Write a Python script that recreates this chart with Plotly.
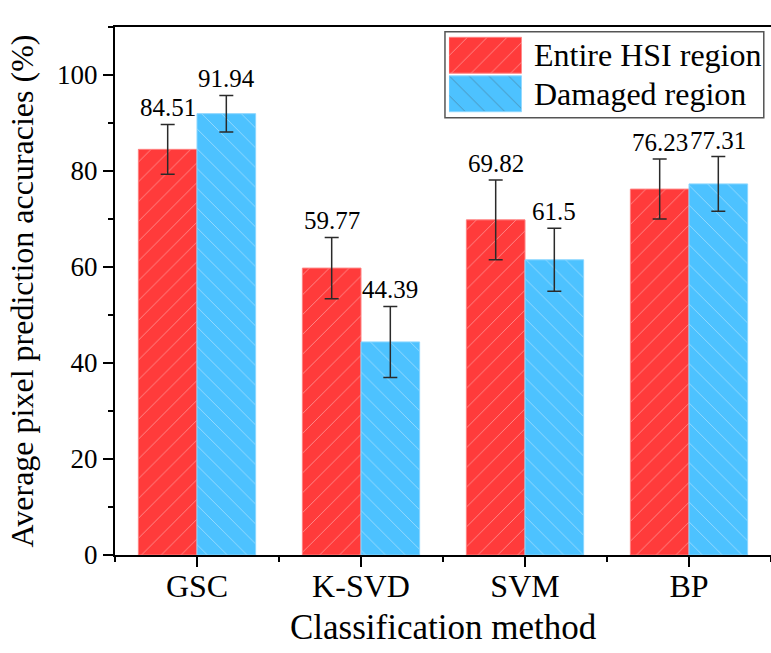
import plotly.graph_objects as go

# ---- data ----
categories = ["GSC", "K-SVD", "SVM", "BP"]
entire_vals = [84.51, 59.77, 69.82, 76.23]
entire_err = [5.2, 6.4, 8.3, 6.25]
damaged_vals = [91.94, 44.39, 61.5, 77.31]
damaged_err = [3.8, 7.4, 6.55, 5.7]
series_names = ["Entire HSI region", "Damaged region"]
y_tick_vals = [0, 20, 40, 60, 80, 100]
x_title = "Classification method"
y_title = "Average pixel prediction accuracies (%)"

# ---- styles ----
RED = "#FF3B3B"
BLUE = "#4DC2FF"
RED_EDGE = "#FF8080"
BLUE_EDGE = "#8AD6FF"
FONT = "Liberation Serif, Times New Roman, serif"
BARGAP = 0.285

xs = list(range(len(categories)))
bar_w = (1 - BARGAP) / 2
offsets = [-bar_w / 2, bar_w / 2]

fig = go.Figure()
series = [
    (series_names[0], entire_vals, entire_err, RED, RED_EDGE, "/"),
    (series_names[1], damaged_vals, damaged_err, BLUE, BLUE_EDGE, "\\"),
]
for name, vals, errs, color, edge, shape in series:
    fig.add_trace(go.Bar(
        x=xs, y=vals, name=name, showlegend=False,
        marker=dict(color=color, line=dict(color=edge, width=1),
                    pattern=dict(shape=shape, fgcolor="white", fgopacity=0.45,
                                 size=14, solidity=0.06)),
        error_y=dict(type="data", array=errs, color="#2a2a2a",
                     thickness=1.5, width=7),
    ))

# value labels above error bars
annotations = []
for (name, vals, errs, *_), off in zip(series, offsets):
    for i, (v, e) in enumerate(zip(vals, errs)):
        annotations.append(dict(
            x=xs[i] + off, y=v + e, xref="x", yref="y",
            text=f"{v:g}", showarrow=False, yanchor="bottom", yshift=1,
            font=dict(family=FONT, size=25, color="black")))

# custom legend (large hatched swatches)
fig.add_trace(go.Bar(
    x=[1, 1], y=series_names, orientation="h", xaxis="x2", yaxis="y2",
    width=0.93, showlegend=False, hoverinfo="skip",
    marker=dict(color=[RED, BLUE], line=dict(color=[RED_EDGE, BLUE_EDGE], width=1),
                pattern=dict(shape=["/", "\\"], fgcolor="white", fgopacity=0.45,
                             size=14, solidity=0.06)),
))
for nm in series_names:
    annotations.append(dict(
        x=0.636, y=nm, xref="paper", yref="y2", text=nm, showarrow=False,
        xanchor="left", yanchor="middle",
        font=dict(family=FONT, size=32, color="black")))

# x-axis title as annotation for precise placement
annotations.append(dict(
    x=0.5, y=-0.137, xref="paper", yref="paper", text=x_title, showarrow=False,
    xanchor="center", yanchor="middle",
    font=dict(family=FONT, size=35, color="black")))

fig.add_shape(type="rect", xref="paper", yref="paper",
              x0=0.503, x1=0.989, y0=0.828, y1=0.991,
              line=dict(color="#555555", width=1.5), fillcolor="rgba(0,0,0,0)")

fig.update_layout(
    width=771, height=653,
    margin=dict(l=115, r=0, t=27, b=98),
    paper_bgcolor="white", plot_bgcolor="white",
    barmode="group", bargap=BARGAP, bargroupgap=0,
    font=dict(family=FONT, color="black"),
    annotations=annotations,
    xaxis=dict(
        range=[-0.5, 3.5], tickmode="array", tickvals=xs, ticktext=categories,
        showgrid=False, zeroline=False, showline=True, linecolor="black",
        linewidth=2, mirror=True, ticks="outside", ticklen=10, tickwidth=2,
        tickcolor="black", tickfont=dict(family=FONT, size=32),
        ticklabelstandoff=-8,
        minor=dict(tick0=0.5, dtick=1, ticks="outside", ticklen=5,
                   tickwidth=2, tickcolor="black"),
    ),
    yaxis=dict(
        range=[0, 110], tickmode="array", tickvals=y_tick_vals,
        showgrid=False, zeroline=False, showline=True, linecolor="black",
        linewidth=2, mirror=False, ticks="outside", ticklen=10, tickwidth=2,
        tickcolor="black", tickfont=dict(family=FONT, size=27),
        minor=dict(tick0=10, dtick=20, ticks="outside", ticklen=5,
                   tickwidth=2, tickcolor="black"),
        title=dict(text=y_title, font=dict(family=FONT, size=32), standoff=14),
    ),
    xaxis2=dict(domain=[0.509, 0.620], anchor="y2", range=[0, 1], visible=False,
                fixedrange=True),
    yaxis2=dict(domain=[0.837, 0.983], anchor="x2", visible=False,
                categoryorder="array", categoryarray=series_names[::-1],
                range=[-0.5, 1.5], fixedrange=True),
)

fig.write_html("out.html", config={"displayModeBar": False},
               post_script="document.body.style.margin='0';"
                           "document.body.style.overflow='hidden';")
